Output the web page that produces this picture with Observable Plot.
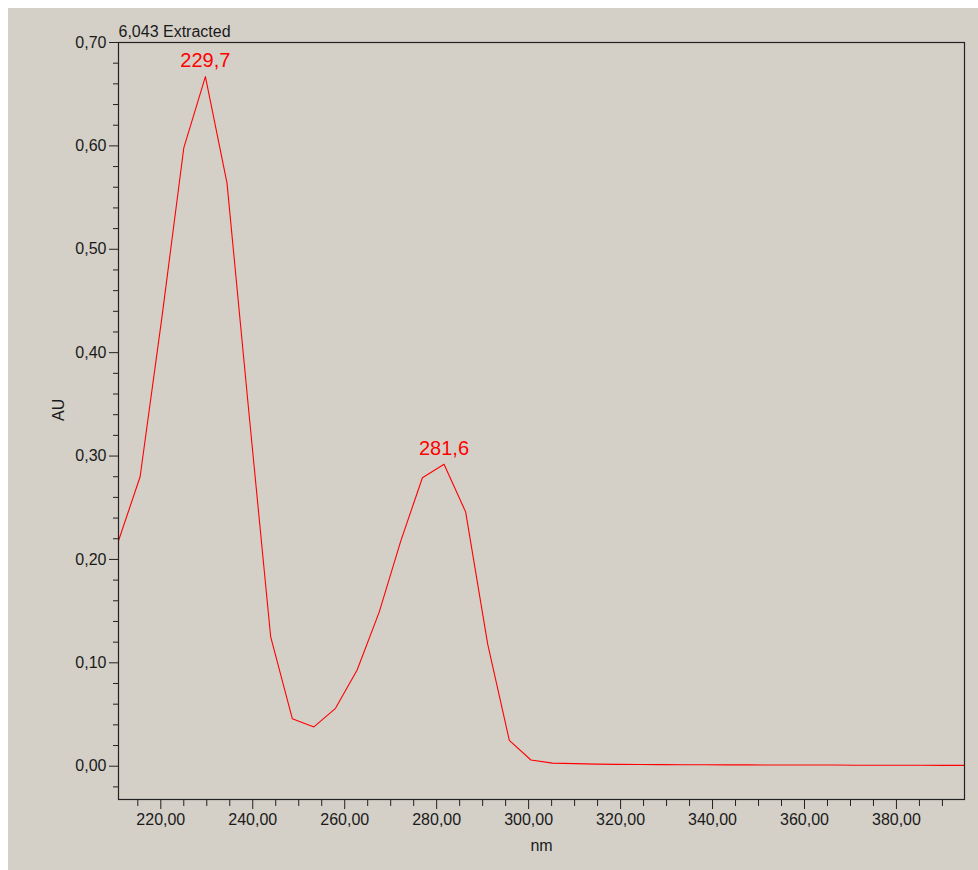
<!DOCTYPE html>
<html>
<head>
<meta charset="utf-8">
<script src="https://cdn.jsdelivr.net/npm/d3@7"></script>
<script src="https://cdn.jsdelivr.net/npm/@observablehq/plot@0.6"></script>
<style>
  html, body { margin: 0; padding: 0; background: #ffffff; }
  #chart { position: absolute; left: 8px; top: 8px; }
</style>
</head>
<body>
<div id="chart"></div>
<script>
// Wavelength (nm) and absorbance (AU)
const wavelengths = [210.8, 215.5, 220.3, 225.0, 229.7, 234.4, 239.1, 243.9, 248.6, 253.3,
  258.0, 262.7, 267.5, 272.2, 276.9, 281.6, 286.3, 291.1, 295.8, 300.5,
  305.2, 310.0, 314.7, 319.4, 324.1, 328.8, 333.6, 338.3, 343.0, 347.7,
  352.4, 357.2, 361.9, 366.6, 371.3, 376.0, 380.8, 385.5, 390.2, 394.9];
const absorbance = [0.218, 0.280, 0.436, 0.598, 0.667, 0.564, 0.345, 0.125, 0.046, 0.038,
  0.056, 0.093, 0.149, 0.218, 0.279, 0.292, 0.246, 0.118, 0.025, 0.006,
  0.003, 0.0025, 0.002, 0.0018, 0.0016, 0.0015, 0.0014, 0.0014, 0.0013, 0.0013,
  0.0012, 0.0012, 0.0011, 0.0011, 0.0010, 0.0010, 0.0009, 0.0009, 0.0008, 0.0008];
const peakLabels = ["229,7", "281,6"];
const peakX = [229.7, 281.6];
const peakY = [0.667, 0.292];
const xMajorTicks = [220, 240, 260, 280, 300, 320, 340, 360, 380];
const xMinorTicks = [215, 225, 230, 235, 245, 250, 255, 265, 270, 275, 285, 290, 295, 305, 310, 315, 325, 330, 335, 345, 350, 355, 365, 370, 375, 385, 390];
const yMajorTicks = [0.0, 0.1, 0.2, 0.3, 0.4, 0.5, 0.6, 0.7];
const yMinorTicks = [-0.02, 0.02, 0.04, 0.06, 0.08, 0.12, 0.14, 0.16, 0.18, 0.22, 0.24, 0.26, 0.28, 0.32, 0.34, 0.36, 0.38, 0.42, 0.44, 0.46, 0.48, 0.52, 0.54, 0.56, 0.58, 0.62, 0.64, 0.66, 0.68];
const titleText = "6,043 Extracted";
const xLabel = "nm";
const yLabel = "AU";

const spectrum = wavelengths.map((w, i) => ({nm: w, au: absorbance[i]}));
const peaks = peakLabels.map((t, i) => ({label: t, nm: peakX[i], au: peakY[i]}));

const fmt2 = d => d3.format(".2f")(d).replace(".", ",");
const textColor = "#1a1a1a";

const chart = Plot.plot({
  width: 970,
  height: 862,
  marginLeft: 110,
  marginTop: 34,
  marginRight: 14,
  marginBottom: 71,
  style: {background: "#d4d0c8", fontFamily: "'Liberation Sans', Arial, sans-serif", fontSize: "16px", color: textColor},
  x: {domain: [210.8, 394.8]},
  y: {domain: [-0.0322, 0.70]},
  marks: [
    Plot.axisX({ticks: xMajorTicks, tickSize: 10, tickPadding: 4, tickFormat: fmt2, label: null, fontSize: 16, stroke: "#222", fill: textColor}),
    Plot.axisX({ticks: xMinorTicks, tickSize: 7, tickFormat: () => "", label: null, stroke: "#222"}),
    Plot.axisY({ticks: yMajorTicks, tickSize: 9, tickPadding: 3, tickFormat: fmt2, label: null, fontSize: 16, stroke: "#222", fill: textColor}),
    Plot.axisY({ticks: yMinorTicks, tickSize: 5, tickFormat: () => "", label: null, stroke: "#222"}),
    Plot.line(spectrum, {x: "nm", y: "au", stroke: "#ff0000", strokeWidth: 1.1, clip: true}),
    Plot.text(peaks, {x: "nm", y: "au", text: "label", dy: -16, fill: "#ff0000", fontSize: 20}),
    Plot.frame({stroke: "#222", strokeWidth: 1.2}),
    Plot.text([titleText], {frameAnchor: "top-left", lineAnchor: "middle", textAnchor: "start", dy: -11, dx: 0, fill: textColor, fontSize: 16}),
    Plot.text([xLabel], {frameAnchor: "bottom", lineAnchor: "middle", dy: 46, fill: textColor, fontSize: 16}),
    Plot.text([yLabel], {frameAnchor: "left", dx: -60, rotate: -90, fill: textColor, fontSize: 16})
  ]
});
document.getElementById("chart").appendChild(chart);
</script>
</body>
</html>
